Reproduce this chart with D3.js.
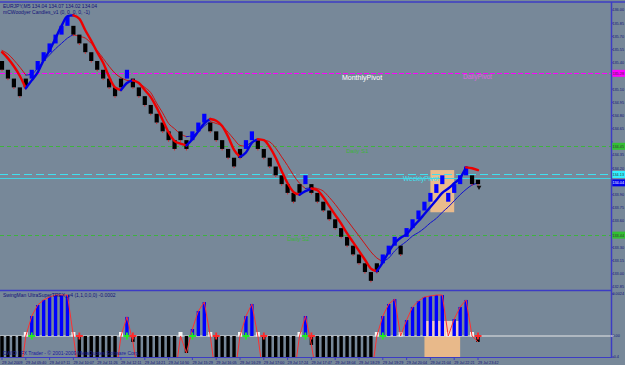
<!DOCTYPE html>
<html><head><meta charset="utf-8">
<script src="https://cdn.jsdelivr.net/npm/d3@7"></script>
<style>html,body{margin:0;padding:0;background:#778899;overflow:hidden}svg{display:block;font-family:'Liberation Sans',Arial,sans-serif}</style>
</head><body><svg id="c" width="625" height="365"></svg>
<script>
// ---------- DATA ----------
const barIndex = d3.range(81);
const openP = [135.42,135.32,135.22,135.12,135.22,135.22,135.32,135.42,135.52,135.62,135.72,135.82,135.82,135.72,135.62,135.52,135.42,135.32,135.22,135.12,135.22,135.22,135.22,135.12,135.02,134.92,134.82,134.72,134.62,134.52,134.62,134.52,134.52,134.62,134.72,134.72,134.62,134.52,134.42,134.32,134.42,134.42,134.52,134.52,134.42,134.32,134.22,134.12,134.02,133.92,134.02,134.02,134.02,133.92,133.82,133.72,133.62,133.52,133.42,133.32,133.22,133.12,133.02,133.12,133.12,133.22,133.32,133.32,133.42,133.52,133.62,133.72,133.82,133.92,134.02,133.82,133.92,134.02,134.12,134.12,134.07];
const closeP = [135.32,135.22,135.12,135.02,135.12,135.32,135.42,135.52,135.62,135.72,135.82,135.92,135.72,135.62,135.52,135.42,135.32,135.22,135.12,135.02,135.12,135.32,135.12,135.02,134.92,134.82,134.72,134.62,134.52,134.42,134.52,134.42,134.62,134.72,134.82,134.62,134.52,134.42,134.32,134.22,134.32,134.52,134.62,134.42,134.32,134.22,134.12,134.02,133.92,133.82,133.92,134.12,133.92,133.82,133.72,133.62,133.52,133.42,133.32,133.22,133.12,133.02,132.92,133.02,133.22,133.32,133.42,133.22,133.52,133.62,133.72,133.82,133.92,134.02,134.12,133.92,134.02,134.12,134.22,134.02,134.02];
const fastMA = [135.52,135.45,135.36,135.25,135.11,135.20,135.29,135.43,135.54,135.68,135.82,135.93,135.94,135.90,135.77,135.65,135.52,135.40,135.24,135.12,135.09,135.17,135.20,135.17,135.09,135.01,134.89,134.75,134.61,134.51,134.48,134.46,134.53,134.62,134.71,134.76,134.74,134.68,134.56,134.41,134.33,134.38,134.49,134.53,134.52,134.44,134.32,134.17,134.03,133.93,133.90,133.94,133.97,133.95,133.87,133.77,133.67,133.57,133.46,133.36,133.26,133.16,133.06,133.03,133.13,133.25,133.35,133.41,133.45,133.53,133.60,133.68,133.76,133.84,133.92,133.97,134.03,134.09,134.21,134.20,134.18];
const slowMA = [135.54,135.50,135.43,135.35,135.26,135.27,135.34,135.42,135.49,135.56,135.62,135.68,135.72,135.70,135.68,135.62,135.54,135.45,135.36,135.28,135.23,135.20,135.19,135.17,135.12,135.06,134.94,134.83,134.71,134.65,134.59,134.56,134.57,134.62,134.68,134.73,134.71,134.68,134.61,134.53,134.46,134.45,134.50,134.53,134.52,134.50,134.43,134.33,134.23,134.12,134.03,133.97,133.98,133.97,133.94,133.87,133.79,133.70,133.61,133.52,133.43,133.34,133.25,133.18,133.14,133.18,133.26,133.32,133.37,133.43,133.47,133.52,133.58,133.63,133.70,133.76,133.83,133.90,133.96,134.01,134.03];
const histValues = [-0.0025,-0.0025,-0.0025,-0.0025,0,0.00114,0.00177,0.00206,0.00223,0.00234,0.00234,0.00234,0,-0.0025,-0.0025,-0.0025,-0.0025,-0.0025,-0.0025,-0.0025,0,0.00109,-0.00034,-0.0025,-0.0025,-0.0025,-0.0025,-0.0025,-0.0025,-0.0025,0,-0.00097,0.00040,0.00143,0.00194,0,-0.0025,-0.0025,-0.0025,-0.0025,0,0.00114,0.00183,0,-0.0025,-0.0025,-0.0025,-0.0025,-0.0025,-0.0025,0,0.00114,-0.00051,-0.0025,-0.0025,-0.0025,-0.0025,-0.0025,-0.0025,-0.0025,-0.0025,-0.0025,-0.0025,0,0.00114,0.00183,0.00211,0,0.00091,0.00166,0.00200,0.00223,0.00229,0.00234,0.00234,0,0.00097,0.00166,0.00206,0,-0.00034];
const buySignals = [5,21,32,41,51,64];
const sellSignals = [13,22,36,44,52,80];
const priceTickLabels = ["136.00","135.85","135.70","135.55","135.40","135.25","135.10","134.95","134.80","134.65","134.50","134.35","134.20","134.05","133.90","133.75","133.60","133.45","133.30","133.15","133.00","132.85"];
const histTickValues = [0.0024, 0, -0.0012];
const histTickLabels = ["0.0024","0.00","-0.4"];
const timeLabelBars = [0,4,8,12,16,20,24,28,32,36,40,44,48,52,56,60,64,68,72,76,80];
const timeLabels = ["29 Jul 2009","29 Jul 05:40","29 Jul 07:11","29 Jul 10:07","29 Jul 11:26","29 Jul 12:11","29 Jul 14:21","29 Jul 14:50","29 Jul 15:29","29 Jul 16:05","29 Jul 16:29","29 Jul 17:00","29 Jul 17:24","29 Jul 17:47","29 Jul 18:04","29 Jul 18:29","29 Jul 19:29","29 Jul 20:04","29 Jul 21:04","29 Jul 22:21","29 Jul 23:42"];
const levelNames = ["MonthlyPivot","Daily S1","WeeklyPivot","","Daily S2"];
const levelPrices = [135.28, 134.45, 134.13, 134.09, 133.44];
const bidPrice = 134.04;
const zoneBars = [72, 76];
const zonePrices = [134.18, 133.70];
const histZoneBars = [71, 77];
const histZoneTop = 0.00086;

// ---------- SETUP ----------
const svg = d3.select("#c");
const W = 625, H = 365, axisX = 611;
const frame = "#3c3cc4", axisText = "#12127a";
const x = d3.scaleLinear().domain([0, 80]).range([2, 478]);
const y = d3.scaleLinear().domain([132.85, 136.00]).range([287, 10]);
const hy = d3.scaleLinear().domain([-0.0012, 0.0024]).range([357, 294]);

svg.append("rect").attr("width", W).attr("height", H).attr("fill", "#778899");
const defs = svg.append("defs");
defs.append("clipPath").attr("id","mainClip").append("rect").attr("x",0).attr("y",3).attr("width",axisX).attr("height",286);
defs.append("clipPath").attr("id","histClip").append("rect").attr("x",0).attr("y",292).attr("width",axisX).attr("height",65);

const main = svg.append("g").attr("clip-path","url(#mainClip)");
const hist = svg.append("g").attr("clip-path","url(#histClip)");

// zone (peach)
main.append("rect").attr("x", x(zoneBars[0])).attr("width", x(zoneBars[1]) - x(zoneBars[0]))
  .attr("y", y(zonePrices[0])).attr("height", y(zonePrices[1]) - y(zonePrices[0])).attr("fill", "#e9bb8c");

// levels
const lvlColors = ["#ff00ff","#3db33d","#40e0f0","#40d4e4","#3db33d"];
const lvlDash = ["5,2","4,3","8,4",null,"4,3"];
levelPrices.forEach((p,i)=>{
  const l = main.append("line").attr("x1",0).attr("x2",axisX).attr("y1",Math.round(y(p))+0.5).attr("y2",Math.round(y(p))+0.5)
    .attr("stroke",lvlColors[i]).attr("stroke-width",1);
  if (lvlDash[i]) l.attr("stroke-dasharray", lvlDash[i]);
});
const lblPos = [[342,80,"#ffffff",7],[346,153,"#3db33d",6],[403,181,"#40e0f0",6.5],null,[287,241,"#3db33d",6]];
levelNames.forEach((n,i)=>{
  if(!n || !lblPos[i]) return;
  main.append("text").attr("x",lblPos[i][0]).attr("y",lblPos[i][1]).attr("fill",lblPos[i][2])
    .attr("font-size",lblPos[i][3]).text(n);
});
main.append("text").attr("x",463).attr("y",79).attr("fill","#e060e0").attr("font-size",6.5).text("DailyPivot");

// colored MA
function colored(g, vals, width, up, down){
  const runs = []; let cur = null;
  for (let i=0;i<vals.length-1;i++){
    const dir = vals[i+1] > vals[i] ? "u" : "d";
    if (!cur || cur.dir !== dir){ cur = {dir, pts:[i]}; runs.push(cur); }
    cur.pts.push(i+1);
  }
  const line = d3.line().x(i=>x(i)).y(i=>y(vals[i])).curve(d3.curveMonotoneX);
  runs.forEach(r=>{
    g.append("path").attr("d", line(r.pts)).attr("fill","none")
      .attr("stroke", r.dir==="u"?up:down).attr("stroke-width",width).attr("stroke-linecap","round");
  });
}
colored(main, slowMA, 1, "#1010d0", "#d01010");

// bricks
const bw = 4.2;
barIndex.forEach(i=>{
  const o = openP[i], c = closeP[i];
  const top = y(Math.max(o,c)), bot = y(Math.min(o,c));
  const up = c > o;
  main.append("rect").attr("x", x(i)-bw/2).attr("y", top).attr("width", bw).attr("height", Math.max(1, bot-top))
    .attr("fill", up ? "#0000ff" : "#000000");
  if (!up) main.append("rect").attr("x", x(i)-0.5).attr("y", bot).attr("width",1).attr("height",1.5).attr("fill","#e02020");
});
colored(main, fastMA, 2.4, "#0000e6", "#ee0000");

// end arrow
main.append("path").attr("d", d3.symbol().type(d3.symbolTriangle).size(10)())
  .attr("transform", `translate(${x(80)+1},${y(closeP[80])+3}) rotate(180)`).attr("fill","#111");

// ---------- HIST ----------
hist.append("rect").attr("x", x(histZoneBars[0])).attr("width", x(histZoneBars[1])-x(histZoneBars[0]))
  .attr("y", hy(histZoneTop)).attr("height", hy(0)-hy(histZoneTop)).attr("fill","#f1ceb8");
hist.append("rect").attr("x", x(histZoneBars[0])).attr("width", x(histZoneBars[1])-x(histZoneBars[0]))
  .attr("y", hy(0)).attr("height", 358-hy(0)).attr("fill","#e8b98a");
hist.append("line").attr("x1",0).attr("x2",axisX).attr("y1",hy(0)).attr("y2",hy(0)).attr("stroke","#e8e8e8").attr("stroke-width",1);
const hbw = 3.4;
barIndex.forEach(i=>{
  const v = histValues[i];
  if (v > 0) hist.append("rect").attr("x",x(i)-hbw/2).attr("y",hy(v)).attr("width",hbw).attr("height",hy(0)-hy(v)).attr("fill","#0000ff");
  else if (v < 0) hist.append("rect").attr("x",x(i)-hbw/2).attr("y",hy(0)).attr("width",hbw).attr("height",hy(v)-hy(0)).attr("fill","#000000");
  else hist.append("rect").attr("x",x(i)-2).attr("y",hy(0)-4).attr("width",4).attr("height",4.5).attr("fill","#f4f4f4");
});
hist.append("path").attr("d", d3.line().x((d,i)=>x(i)).y(d=>hy(d))(histValues))
  .attr("fill","none").attr("stroke","#ff3030").attr("stroke-width",1);
function cross(g, cx, cy, col){
  g.append("path").attr("d",`M${cx-3.5},${cy}H${cx+3.5}M${cx},${cy-3.5}V${cy+3.5}`).attr("stroke",col).attr("stroke-width",1.8);
}
buySignals.forEach(i=>cross(hist, x(i), hy(0), "#22ee22"));
sellSignals.forEach(i=>cross(hist, x(i), hy(0), "#ff2a2a"));

// ---------- FRAME ----------
svg.append("line").attr("x1",0).attr("x2",W).attr("y1",2).attr("y2",2).attr("stroke",frame).attr("stroke-width",1.5);
svg.append("line").attr("x1",axisX+0.5).attr("x2",axisX+0.5).attr("y1",2).attr("y2",358).attr("stroke",frame).attr("stroke-width",1.5);
svg.append("line").attr("x1",0).attr("x2",axisX).attr("y1",290.5).attr("y2",290.5).attr("stroke",frame).attr("stroke-width",1.5);
svg.append("line").attr("x1",0).attr("x2",axisX).attr("y1",357.5).attr("y2",357.5).attr("stroke",frame).attr("stroke-width",1.2);

function axText(t, yy, col){
  return svg.append("text").attr("x",612.4).attr("y",yy+1.4).attr("font-size",3.8).attr("fill",col).text(t);
}
// price axis
const boxYs = levelPrices.filter((p,i)=>i!==3).map(p=>y(p)).concat([y(bidPrice)]);
priceTickLabels.forEach(t=>{
  const yy = y(+t);
  svg.append("line").attr("x1",axisX).attr("x2",axisX+2).attr("y1",yy).attr("y2",yy).attr("stroke",frame);
  if (boxYs.some(b=>Math.abs(b-yy)<6)) return;
  axText(t, yy, axisText);
});
const boxCols = ["#ff00ff","#33c033","#33f0ff",null,"#33c033"];
levelPrices.forEach((p,i)=>{
  if(!boxCols[i]) return;
  svg.append("rect").attr("x",612.3).attr("y",y(p)-3.5).attr("width",12.7).attr("height",7).attr("fill",boxCols[i]);
  axText(p.toFixed(2), y(p), "#333");
});
svg.append("rect").attr("x",612.3).attr("y",y(bidPrice)-3).attr("width",12.7).attr("height",7).attr("fill","#0000ee");
axText(bidPrice.toFixed(2), y(bidPrice)+0.5, "#ffffff");

// hist axis
histTickValues.forEach((v,i)=>{
  const yy = hy(v);
  svg.append("line").attr("x1",axisX).attr("x2",axisX+3).attr("y1",yy).attr("y2",yy).attr("stroke", v===0?"#ffffff":frame);
  axText(histTickLabels[i], yy, axisText);
});

// time axis
timeLabelBars.forEach((b,i)=>{
  svg.append("line").attr("x1",x(b)).attr("x2",x(b)).attr("y1",357).attr("y2",360).attr("stroke",frame);
  svg.append("text").attr("x",x(b)).attr("y",363.5).attr("font-size",4.4).attr("fill",axisText)
    .attr("textLength",20.5).attr("lengthAdjust","spacingAndGlyphs").text(timeLabels[i]);
});

// titles
svg.append("text").attr("x",3).attr("y",8).attr("font-size",5).attr("fill",axisText).text("EURJPY,M5  134.04 134.07 134.02 134.04");
svg.append("text").attr("x",3).attr("y",14).attr("font-size",5).attr("fill",axisText).text("mCWoodyer Candles_v1 (0, 0, 0, 0, -1)");
svg.append("text").attr("x",3).attr("y",297).attr("font-size",5).attr("fill",axisText).text("SwingMan UltraSuperTREX_v4 (1,1,0,0,0) -0.0002");
svg.append("text").attr("x",3).attr("y",355).attr("font-size",5).attr("fill","#1a1aa0").text("DWIO | FX Trader - © 2001-2009 MetaQuotes Software Corp.");
</script></body></html>
